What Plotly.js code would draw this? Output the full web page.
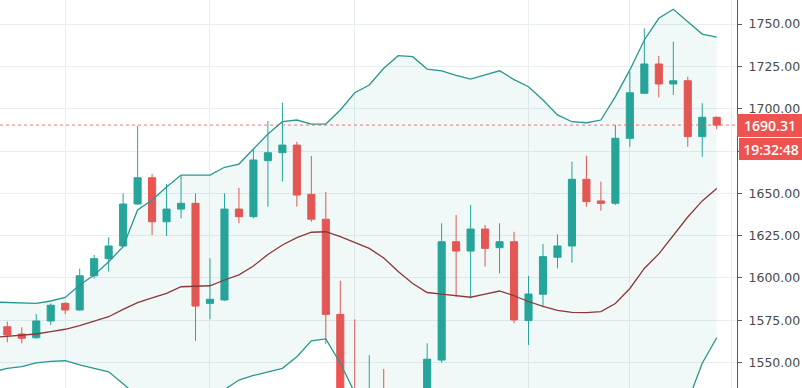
<!DOCTYPE html>
<html>
<head>
<meta charset="utf-8">
<script src="https://cdn.plot.ly/plotly-3.0.1.min.js"></script>
<style>html,body{margin:0;padding:0;background:#fff;}#chart{width:802px;height:388px;}</style>
</head>
<body>
<div id="chart"></div>
<script>
// Candles (index 0..49)
const open  = [1571.2,1566.9,1564.7,1574.6,1585.0,1581.1,1601.3,1611.4,1618.9,1643.7,
               1659.2,1633.2,1640.7,1644.1,1585.0,1587.0,1640.7,1636.2,1669.3,1674.0,
               1678.5,1649.4,1634.7,1578.5,1522.0,1510.0,1520.0,1510.0,1505.0,1515.0,
               1551.5,1621.4,1615.9,1628.9,1617.9,1621.4,1574.8,1590.4,1612.2,1618.9,
               1658.3,1645.5,1644.1,1682.5,1709.1,1726.4,1714.6,1716.5,1683.5,1694.9];
const high  = [1574.2,1570.9,1578.7,1585.0,1585.6,1605.5,1613.6,1624.0,1650.0,1689.8,
               1661.4,1655.5,1660.8,1650.0,1611.6,1650.0,1653.3,1675.6,1692.7,1703.5,
               1680.5,1672.1,1650.8,1598.4,1575.6,1554.5,1546.2,1530.0,1532.0,1561.4,
               1632.3,1637.2,1643.1,1631.3,1632.3,1627.3,1601.2,1620.1,1625.8,1668.7,
               1672.2,1656.9,1690.4,1721.8,1747.5,1731.1,1739.6,1718.9,1703.2,1695.5];
const low   = [1562.0,1561.4,1564.2,1572.2,1578.7,1580.6,1599.8,1603.7,1618.4,1643.2,
               1625.4,1624.8,1635.2,1562.9,1575.6,1586.5,1632.3,1635.2,1642.1,1656.9,
               1642.1,1633.2,1561.0,1515.0,1500.0,1495.0,1500.0,1490.0,1495.0,1505.0,
               1550.0,1588.9,1588.0,1606.7,1602.8,1573.2,1560.4,1582.7,1605.7,1609.0,
               1642.1,1639.7,1643.1,1677.5,1708.7,1706.7,1708.1,1677.5,1671.6,1687.8];
const close = [1566.3,1564.4,1574.6,1583.9,1581.1,1601.3,1611.4,1618.9,1643.7,1659.2,
               1633.2,1640.7,1644.1,1583.4,1587.4,1640.7,1636.2,1669.7,1674.0,1678.5,
               1649.0,1634.7,1578.5,1522.0,1510.0,1520.0,1510.0,1505.0,1515.0,1552.0,
               1621.4,1615.9,1628.9,1617.5,1621.4,1575.2,1590.5,1612.6,1618.9,1658.3,
               1645.1,1644.1,1682.5,1709.4,1726.4,1714.6,1716.5,1683.5,1694.9,1690.31];

// Bollinger bands (index -1..49)
const bbUpper = [1585.8,1585.4,1585.0,1585.0,1586.4,1588.5,1595.8,1601.8,1609.6,1618.5,1640.2,
                 1646.1,1653.7,1660.8,1660.8,1660.8,1665.4,1667.3,1676.2,1685.0,1692.3,
                 1693.3,1690.9,1690.9,1699.2,1709.4,1714.0,1723.9,1731.3,1730.7,1723.4,
                 1722.3,1719.7,1717.5,1719.9,1722.4,1717.2,1713.0,1705.1,1696.3,1692.3,
                 1691.7,1693.3,1707.1,1722.9,1740.6,1753.4,1758.7,1751.4,1744.1,1742.2];
const bbMiddle = [1564.8,1565.4,1566.0,1566.9,1568.3,1569.7,1571.8,1574.3,1577.1,1581.4,1585.4,
                  1588.2,1590.9,1594.8,1595.1,1595.4,1598.8,1601.8,1607.1,1613.9,1619.5,
                  1623.8,1627.0,1627.3,1624.4,1620.8,1617.5,1611.8,1603.8,1596.7,1591.4,
                  1590.5,1589.6,1588.6,1590.4,1592.3,1589.5,1586.1,1583.2,1580.8,1579.7,
                  1579.5,1580.1,1584.9,1593.8,1605.6,1614.2,1625.1,1636.0,1645.5,1652.9];
const bbLower = [1544.4,1546.6,1547.6,1549.9,1550.7,1551.1,1548.6,1546.6,1544.6,1537.5,1530.0,
                 1526.0,1527.0,1528.5,1529.4,1530.0,1534.0,1539.7,1542.4,1544.4,1546.6,
                 1553.5,1562.9,1564.0,1549.6,1532.2,1521.0,1499.7,1476.3,1462.7,1459.4,
                 1458.7,1459.5,1459.7,1460.9,1462.2,1461.8,1459.2,1461.3,1465.3,1467.1,
                 1467.3,1466.9,1462.7,1464.7,1470.6,1475.0,1491.5,1527.0,1549.6,1564.7];

// 1675.00 is hidden behind the countdown label in the reference
const yTicks = [1550, 1575, 1600, 1625, 1650, 1675, 1700, 1725, 1750];
const yTickText = ['1550.00','1575.00','1600.00','1625.00','1650.00','','1700.00','1725.00','1750.00'];
const sessionBreaks = [4, 14, 24, 36, 43, 50];
const lastPrice = 1690.31;
const lastPriceText = '1690.31';
const countdownText = '19:32:48';

const candleX = open.map((_, i) => i);
const bandX = bbUpper.map((_, i) => i - 1);

const GREEN = '#26a69a', RED = '#ef5350', BAND = '#27988f', BASIS = '#8c3838';

const traces = [
  {type:'scatter', mode:'lines', x:bandX, y:bbUpper, line:{color:BAND, width:1.3}, hoverinfo:'skip', showlegend:false},
  {type:'scatter', mode:'lines', x:bandX, y:bbLower, line:{color:BAND, width:1.3}, fill:'tonexty',
   fillcolor:'rgba(38,150,143,0.065)', hoverinfo:'skip', showlegend:false},
  {type:'scatter', mode:'lines', x:bandX, y:bbMiddle, line:{color:BASIS, width:1.3}, hoverinfo:'skip', showlegend:false},
  {type:'candlestick', x:candleX, open:open, high:high, low:low, close:close,
   increasing:{line:{color:GREEN, width:1}, fillcolor:GREEN},
   decreasing:{line:{color:RED, width:1}, fillcolor:RED},
   whiskerwidth:0, hoverinfo:'skip', showlegend:false}
];

const layout = {
  width:802, height:388,
  margin:{l:0, r:65, t:0, b:0, pad:0},
  paper_bgcolor:'#ffffff', plot_bgcolor:'#ffffff',
  showlegend:false,
  xaxis:{range:[-0.504, 50.4], tickvals:sessionBreaks, showticklabels:false, ticks:'',
         showgrid:true, gridcolor:'#e7eef4', gridwidth:1, zeroline:false, showline:false,
         rangeslider:{visible:false}, fixedrange:true},
  yaxis:{side:'right', range:[1535.0, 1764.2], tickvals:yTicks, ticktext:yTickText,
         showgrid:true, gridcolor:'#e7eef4', gridwidth:1, zeroline:false,
         showline:true, linecolor:'#5a5a5a', linewidth:1,
         ticks:'outside', ticklen:4, tickcolor:'#5a5a5a', tickwidth:1,
         tickfont:{family:'DejaVu Sans, sans-serif', size:12.5, color:'#4a4a4a'},
         ticklabelstandoff:4, fixedrange:true},
  shapes:[
    {type:'line', xref:'paper', x0:0, x1:1, yref:'y', y0:lastPrice, y1:lastPrice,
     line:{color:'rgba(239,83,80,0.8)', width:1, dash:'dot'}, layer:'above'}
  ],
  annotations:[
    {xref:'paper', x:1, xanchor:'left', yref:'y', y:lastPrice, yanchor:'middle',
     text:lastPriceText, showarrow:false, bgcolor:RED, borderwidth:0, borderpad:0,
     width:66, height:23, align:'center',
     font:{family:'Open Sans, sans-serif', size:14, color:'#ffffff', weight:600}},
    {xref:'paper', x:1, xanchor:'left', xshift:1.5, yref:'y', y:lastPrice, yanchor:'middle', yshift:-23.5,
     text:countdownText, showarrow:false, bgcolor:RED, borderwidth:0, borderpad:0,
     width:64, height:22, align:'center',
     font:{family:'Open Sans, sans-serif', size:14, color:'#ffffff', weight:600}}
  ]
};

Plotly.newPlot('chart', traces, layout, {displayModeBar:false, staticPlot:true});
</script>
</body>
</html>
